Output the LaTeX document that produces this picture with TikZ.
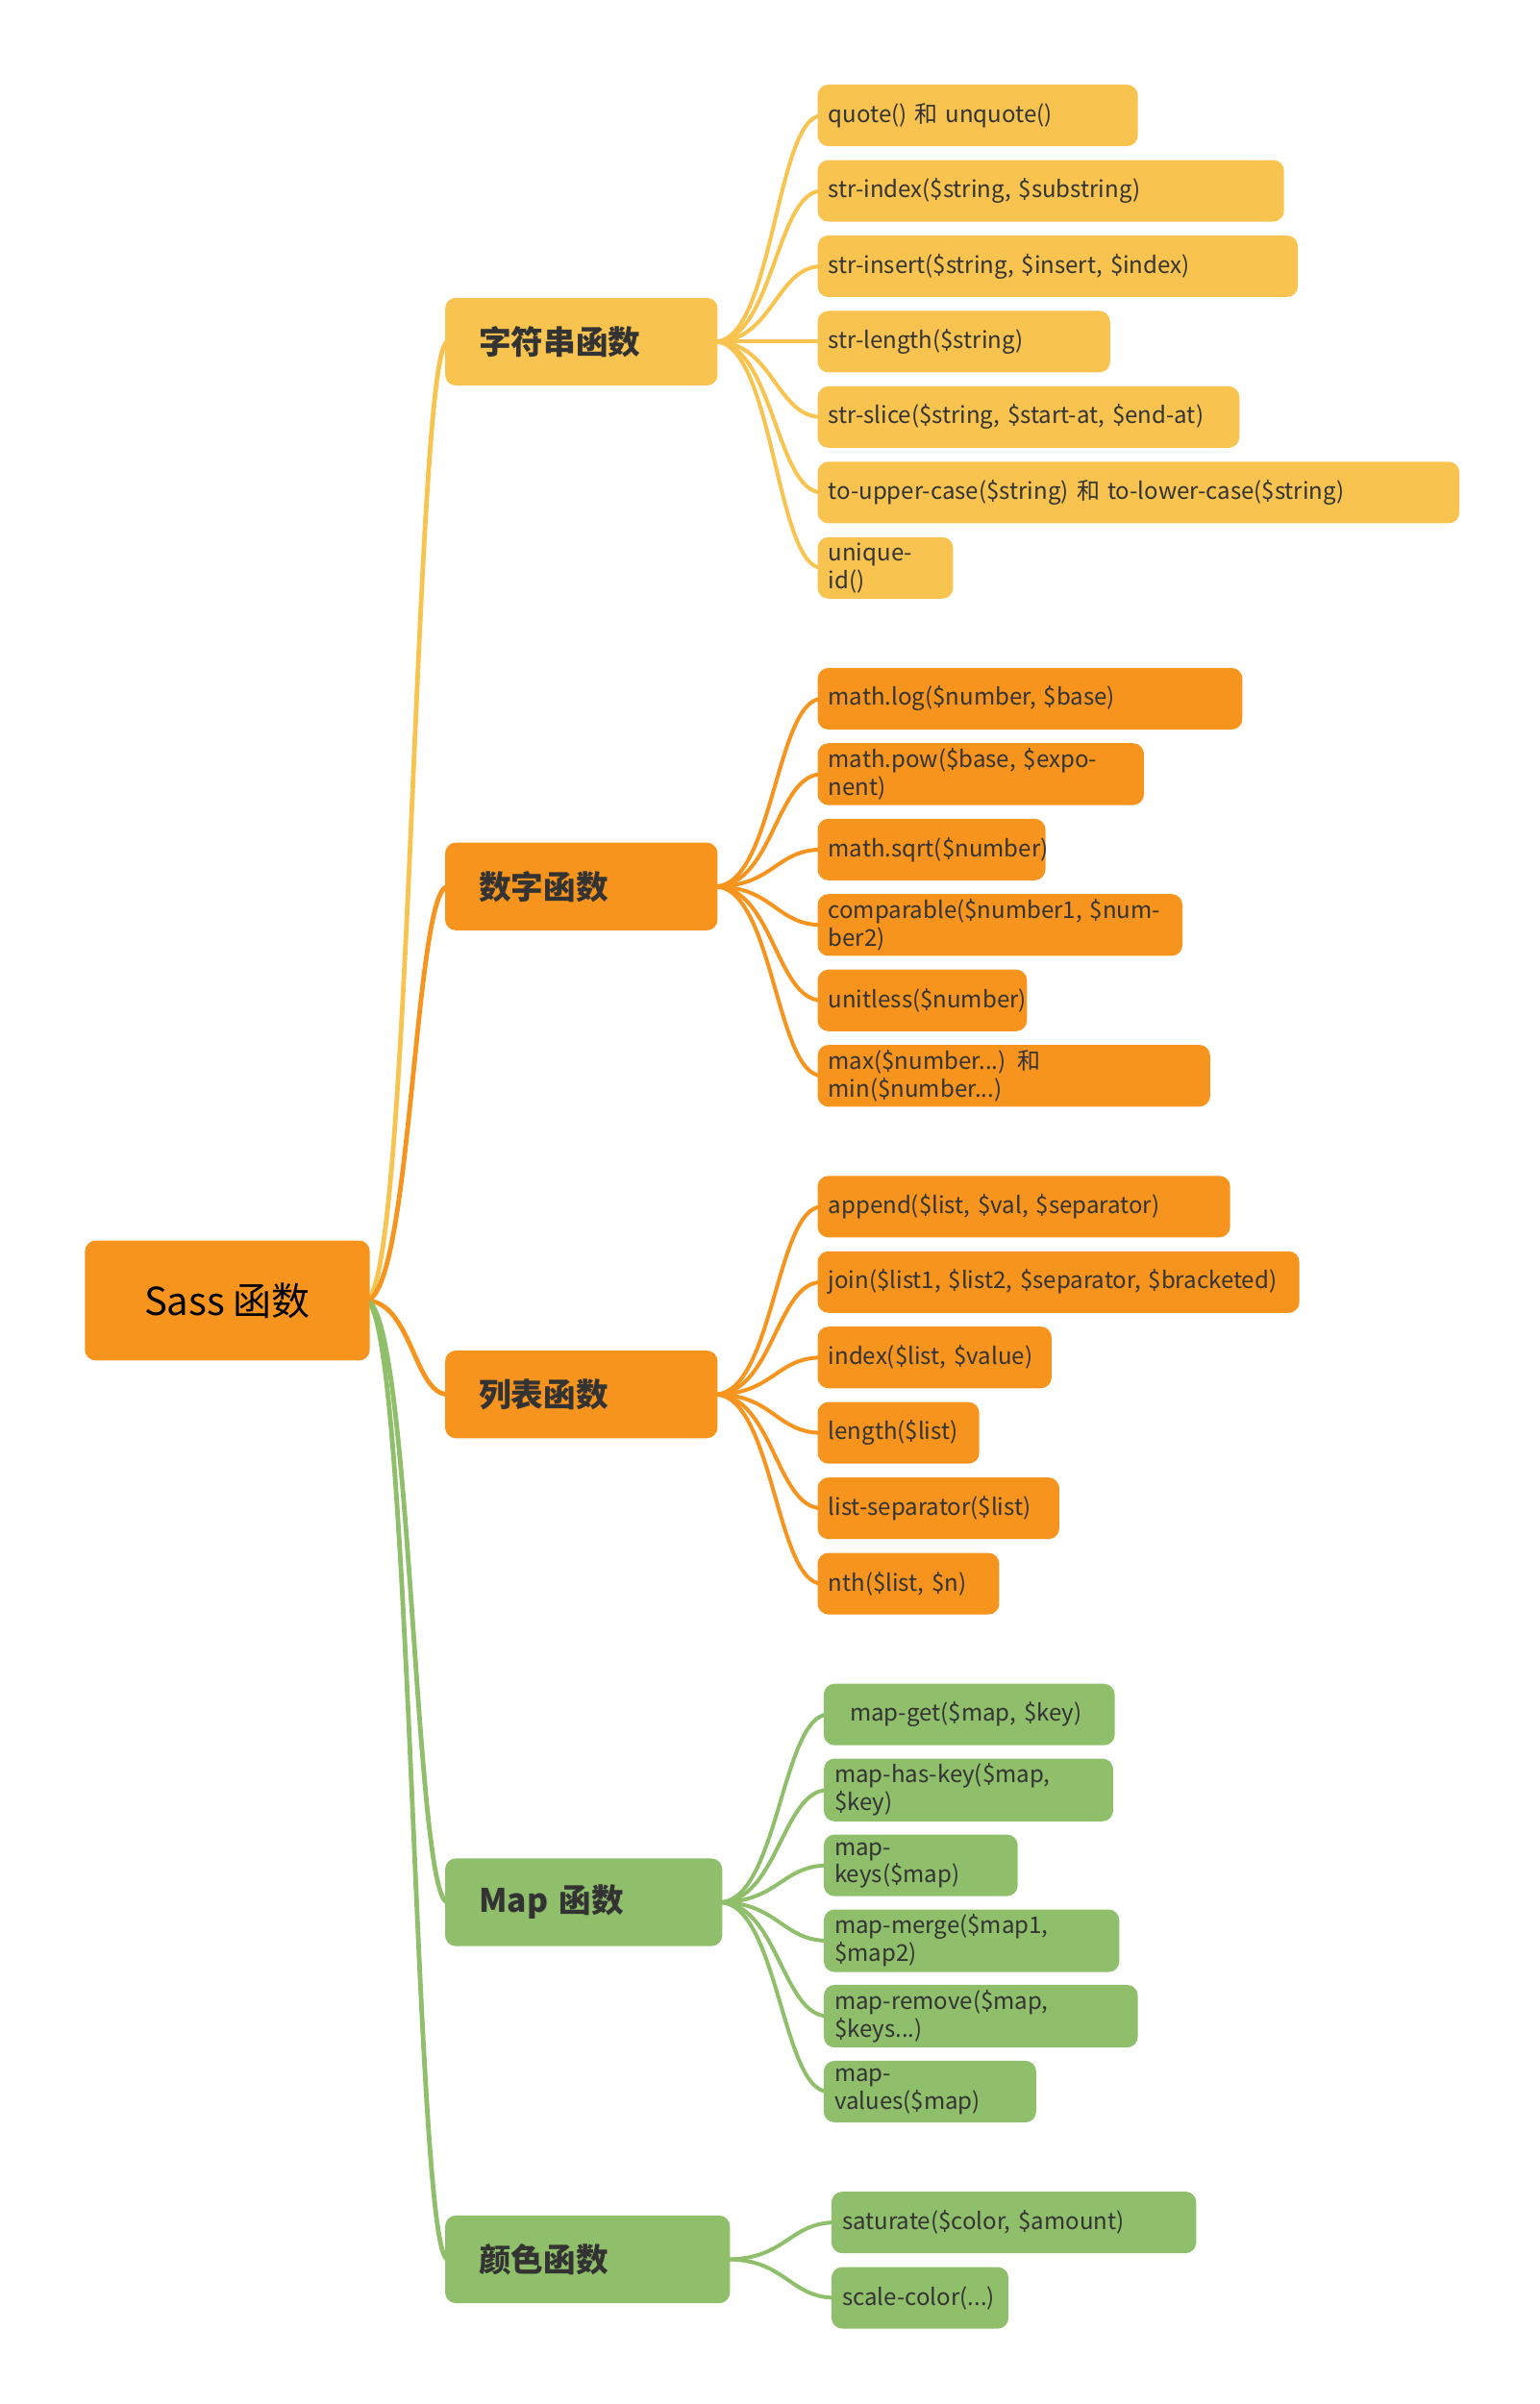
\documentclass[tikz,border=0pt]{standalone}
\usepackage{fontspec}
\setmainfont{Noto Sans CJK SC}
\usetikzlibrary{backgrounds}
\definecolor{cy}{HTML}{F8C44F}
\definecolor{co}{HTML}{F7941D}
\definecolor{cg}{HTML}{8FBF6A}
\definecolor{tx}{HTML}{333333}
\tikzset{
  leaf/.style={rounded corners=7pt, minimum height=40pt, inner xsep=7pt, anchor=west, align=left, text=tx, font=\fontsize{15}{18}\selectfont},
  br/.style={rounded corners=7pt, minimum height=57pt, inner xsep=22pt, anchor=west, align=left, text=tx, font=\fontsize{21}{24}\selectfont\bfseries},
  con/.style={line width=2.5pt},
}
\newcommand{\leafnode}[6]{%
  \pgfmathsetmacro\tw{#4-#2-14}%
  \node[leaf, fill=#6, text width=\tw pt] (#1) at (#2,#3) {#5};}
\newcommand{\brnode}[6]{%
  \pgfmathsetmacro\tw{#4-#2-44}%
  \node[br, fill=#6, text width=\tw pt] (#1) at (#2,#3) {#5};}
\begin{document}
\begin{tikzpicture}[x=1pt,y=-1pt]
\useasboundingbox (0,0) rectangle (1000,1562);
\node[rounded corners=7pt, fill=co, minimum width=185pt, minimum height=78pt, text=black, font=\fontsize{25}{28}\selectfont, anchor=west] (root) at (55,845) {Sass 函数};
\brnode{b1}{289}{222}{466}{字符串函数}{cy}
\brnode{b2}{289}{576}{466}{数字函数}{co}
\brnode{b3}{289}{906}{466}{列表函数}{co}
\brnode{b4}{289}{1236}{469}{Map 函数}{cg}
\brnode{b5}{289}{1468}{474}{颜色函数}{cg}
% yellow leaves
\leafnode{a1}{531}{75}{739}{quote() 和 unquote()}{cy}
\leafnode{a2}{531}{124}{834}{str-index(\$string, \$substring)}{cy}
\leafnode{a3}{531}{173}{843}{str-insert(\$string, \$insert, \$index)}{cy}
\leafnode{a4}{531}{222}{721}{str-length(\$string)}{cy}
\leafnode{a5}{531}{271}{805}{str-slice(\$string, \$start-at, \$end-at)}{cy}
\leafnode{a6}{531}{320}{948}{to-upper-case(\$string) 和 to-lower-case(\$string)}{cy}
\leafnode{a7}{531}{369}{619}{unique-id()}{cy}
% number
\leafnode{n1}{531}{454}{807}{math.log(\$number, \$base)}{co}
\leafnode{n2}{531}{503}{743}{math.pow(\$base, \$exponent)}{co}
\leafnode{n3}{531}{552}{679}{math.sqrt(\$number)}{co}
\leafnode{n4}{531}{601}{768}{comparable(\$number1, \$number2)}{co}
\leafnode{n5}{531}{650}{667}{unitless(\$number)}{co}
\leafnode{n6}{531}{699}{786}{max(\$number...) 和 min(\$number...)}{co}
% list
\leafnode{l1}{531}{784}{799}{append(\$list, \$val, \$separator)}{co}
\leafnode{l2}{531}{833}{844}{join(\$list1, \$list2, \$separator, \$bracketed)}{co}
\leafnode{l3}{531}{882}{683}{index(\$list, \$value)}{co}
\leafnode{l4}{531}{931}{636}{length(\$list)}{co}
\leafnode{l5}{531}{980}{688}{list-separator(\$list)}{co}
\leafnode{l6}{531}{1029}{649}{nth(\$list, \$n)}{co}
% map
\leafnode{m1}{535}{1114}{724}{\hspace{10pt}map-get(\$map, \$key)}{cg}
\leafnode{m2}{535}{1163}{723}{map-has-key(\$map, \$key)}{cg}
\leafnode{m3}{535}{1212}{661}{map-keys(\$map)}{cg}
\leafnode{m4}{535}{1261}{727}{map-merge(\$map1, \$map2)}{cg}
\leafnode{m5}{535}{1310}{739}{map-remove(\$map, \$keys...)}{cg}
\leafnode{m6}{535}{1359}{673}{map-values(\$map)}{cg}
% color
\leafnode{c1}{540}{1444}{777}{saturate(\$color, \$amount)}{cg}
\leafnode{c2}{540}{1493}{655}{scale-color(...)}{cg}
\begin{pgfonlayer}{background}
\foreach \b/\c in {b1/cy,b2/co,b3/co,b4/cg,b5/cg}
  \draw[line width=3pt, draw=\c] ([xshift=-3pt]root.east) .. controls +(30,0) and +(-22,0) .. ([xshift=2pt]\b.west);
\foreach \l in {a1,a2,a3,a4,a5,a6,a7}
  \draw[con, draw=cy] ([xshift=-2pt]b1.east) .. controls +(38,0) and +(-30,0) .. ([xshift=3pt]\l.west);
\foreach \l in {n1,n2,n3,n4,n5,n6}
  \draw[con, draw=co] ([xshift=-2pt]b2.east) .. controls +(38,0) and +(-30,0) .. ([xshift=3pt]\l.west);
\foreach \l in {l1,l2,l3,l4,l5,l6}
  \draw[con, draw=co] ([xshift=-2pt]b3.east) .. controls +(38,0) and +(-30,0) .. ([xshift=3pt]\l.west);
\foreach \l in {m1,m2,m3,m4,m5,m6}
  \draw[con, draw=cg] ([xshift=-2pt]b4.east) .. controls +(38,0) and +(-30,0) .. ([xshift=3pt]\l.west);
\foreach \l in {c1,c2}
  \draw[con, draw=cg] ([xshift=-2pt]b5.east) .. controls +(38,0) and +(-30,0) .. ([xshift=3pt]\l.west);
\end{pgfonlayer}
\end{tikzpicture}
\end{document}
